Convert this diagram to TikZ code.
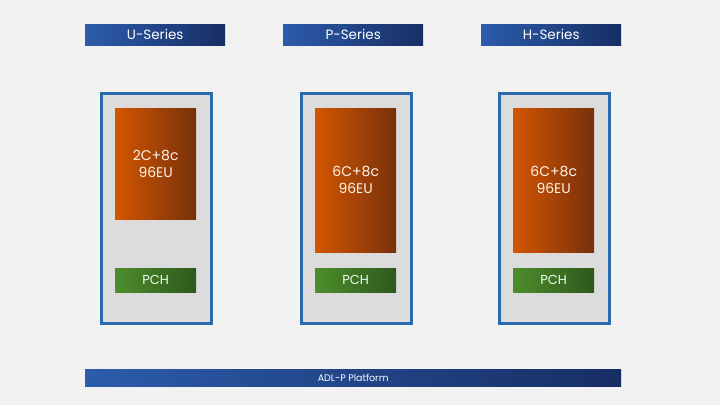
\documentclass[tikz,border=0pt]{standalone}
\usepackage{fontspec}
\setmainfont{Poppins}
\definecolor{bgray}{HTML}{F2F2F2}
\definecolor{pkggray}{HTML}{DCDCDC}
\definecolor{pkgblue}{HTML}{2A6AAE}
\definecolor{barleft}{HTML}{2C5CAB}
\definecolor{barright}{HTML}{172E64}
\definecolor{dieleft}{HTML}{D35600}
\definecolor{dieright}{HTML}{77300C}
\definecolor{pchleft}{HTML}{4D8D2C}
\definecolor{pchright}{HTML}{2E581D}

\begin{document}
\begin{tikzpicture}[x=1pt, y=-1pt,
    serieshead/.style={anchor=north west, inner sep=0pt, minimum width=140pt,
                       minimum height=21pt, left color=barleft, right color=barright,
                       text=white, font=\fontsize{13.5}{15}\selectfont},
    pkgbox/.style={anchor=north west, inner sep=0pt, minimum width=110pt,
                   minimum height=230pt, fill=pkggray, draw=pkgblue, line width=2.6pt},
    diebox/.style={anchor=north west, inner sep=0pt, minimum width=81pt,
                   left color=dieleft, right color=dieright, align=center,
                   text=orange!8, font=\fontsize{14}{17}\selectfont},
    pchbox/.style={anchor=north west, inner sep=0pt, minimum width=81pt,
                   minimum height=24pt, left color=pchleft, right color=pchright,
                   text=green!8!white, font=\fontsize{13}{15}\selectfont}]
  \fill[bgray] (0,0) rectangle (720,405);
  \useasboundingbox (0,0) rectangle (720,405);

  % one column per series
  \foreach \name/\hx/\px/\cores/\dieh in {U/85/100/2C+8c/111,
                                          P/283/300/6C+8c/144,
                                          H/481/498/6C+8c/144}{
    \node[serieshead] (\name-head) at (\hx,24) {\name-Series};
    \node[pkgbox] (\name-pkg) at (\px,92) {};
    \node[diebox, minimum height=\dieh pt] (\name-die) at (\px+15,108) {\cores\\96EU};
    \node[pchbox] (\name-pch) at (\px+15,268) {PCH};
  }

  \node[anchor=north west, inner sep=0pt, minimum width=536pt, minimum height=17pt,
        left color=barleft, right color=barright, text=white,
        font=\fontsize{9.5}{10}\selectfont] (platform) at (85,369) {ADL-P Platform};
\end{tikzpicture}
\end{document}
